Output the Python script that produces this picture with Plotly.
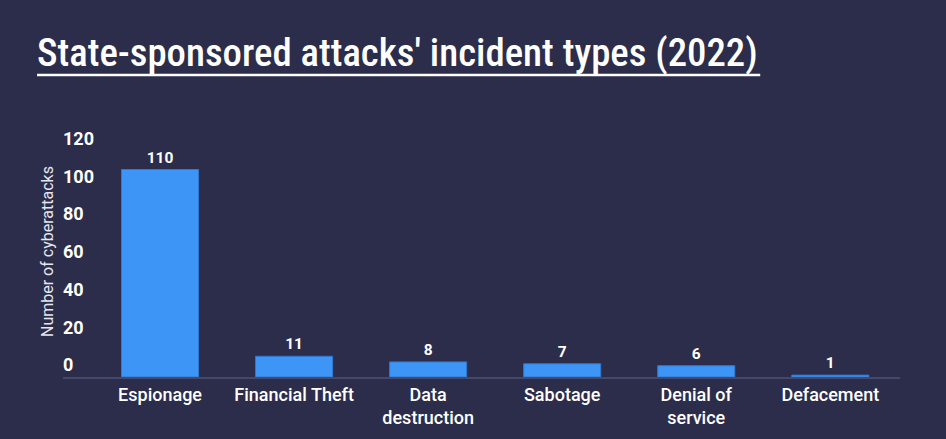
import plotly.graph_objects as go

categories = ["Espionage", "Financial Theft", "Data<br>destruction", "Sabotage", "Denial of<br>service", "Defacement"]
attacks = [110, 11, 8, 7, 6, 1]
y_ticks = [0, 20, 40, 60, 80, 100, 120]

bg = "#2b2d4b"
bar_blue = "#3d95f5"

fig = go.Figure()

fig.add_trace(go.Bar(
    x=list(range(len(categories))),
    y=attacks,
    text=attacks,
    textposition="outside",
    cliponaxis=False,
    textfont=dict(family="Roboto", size=15.5, color="#ffffff", weight="bold"),
    marker=dict(color=bar_blue, line=dict(color="#2f78cf", width=1)),
    width=0.575,
    hoverinfo="skip",
))

fig.update_xaxes(
    range=[-0.724, 5.52],
    tickvals=list(range(len(categories))),
    ticktext=categories,
    tickfont=dict(family="Roboto", size=18, color="#ffffff", weight=500),
    showline=True, linecolor="#45486a", linewidth=2,
    showgrid=False, zeroline=False, ticks="",
)

fig.update_yaxes(
    range=[0, 132],
    tickvals=y_ticks,
    ticklabelposition="inside",
    ticklabeloverflow="allow",
    ticklabelshift=-12,
    ticklabelstandoff=-3,
    tickfont=dict(family="Roboto", size=18, color="#ffffff", weight="bold"),
    showgrid=False, zeroline=False, showline=False, ticks="",
)

# title + underline
fig.add_annotation(
    text="State-sponsored attacks' incident types (2022)",
    xref="paper", yref="paper", x=-0.034, y=1.305,
    xanchor="left", yanchor="middle", showarrow=False,
    font=dict(family="Roboto Condensed, Roboto", size=38.8, color="#ffffff", weight=500),
)
fig.add_shape(type="line", xref="paper", yref="paper",
              x0=-0.031, x1=0.833, y0=1.213, y1=1.213,
              line=dict(color="#ffffff", width=2.5))

# y axis title
fig.add_annotation(
    text="Number of cyberattacks", textangle=-90,
    xref="paper", yref="paper", x=0, xshift=-16, y=0.502,
    xanchor="center", yanchor="middle", showarrow=False,
    font=dict(family="Roboto", size=16, color="#e6e6ee"),
)

fig.update_layout(
    width=946, height=439,
    margin=dict(l=63, r=46, t=128, b=62),
    paper_bgcolor=bg, plot_bgcolor=bg,
    showlegend=False,
)

fig.write_html("out.html", config={"displayModeBar": False},
               post_script="document.body.style.margin='0';")
